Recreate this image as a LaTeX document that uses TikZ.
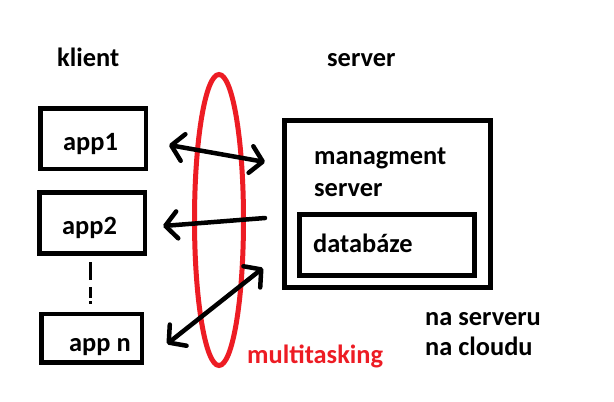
\documentclass[tikz,border=0pt]{standalone}
\usepackage{fontspec}
\setmainfont{Carlito}
\usetikzlibrary{arrows.meta,shapes.geometric}
\definecolor{paintred}{HTML}{ED1C24}
\tikzset{barbtip/.tip={Straight Barb[length=12pt,width=27pt,line cap=round,line join=round]}}
\begin{document}
\begin{tikzpicture}[x=1pt,y=-1pt,
  lbl/.style={anchor=base west,inner sep=0pt,font=\fontsize{26.4}{30}\selectfont\bfseries},
  box/.style={draw=black,line width=4.5pt,inner sep=0pt,rectangle},
  conn/.style={line width=4.5pt,line cap=round}]
\useasboundingbox (0,0) rectangle (614,402);
\fill[white] (0,0) rectangle (614,402);
% client boxes
\node[box,minimum width=105.5pt,minimum height=60.5pt] (b1) at (93,138.5) {};
\node[box,minimum width=105.5pt,minimum height=61pt] (b2) at (92,223) {};
\node[box,minimum width=100.5pt,minimum height=48.8pt] (bn) at (91.8,338.3) {};
% server boxes
\node[box,line width=5pt,minimum width=206pt,minimum height=167pt] (srv) at (387.5,204) {};
\node[box,line width=5pt,minimum width=175pt,minimum height=61pt] (db) at (387,245) {};
% labels
\node[lbl] (klient) at (57,66) {klient};
\node[lbl] (server) at (327,66) {server};
\node[lbl] (t1) at (63,150) {app1};
\node[lbl] (t2) at (62,234) {app2};
\node[lbl] (tn) at (69,351) {app n};
\node[lbl] (mg) at (314,164) {managment};
\node[lbl] (mg2) at (314,196) {server};
\node[lbl] (dbt) at (313,252) {databáze};
\node[lbl,text=paintred] (mt) at (247,363) {multitasking};
\node[lbl] (ns) at (425,325) {na serveru};
\node[lbl] (nc) at (425,355) {na cloudu};
% ellipse
\node[draw=paintred,line width=5pt,ellipse,minimum width=49pt,minimum height=291pt,inner sep=0pt] (el) at (219,220) {};
% arrow endpoints
\coordinate (a1l) at (169,145);
\coordinate (a1r) at (265,162);
\coordinate (a2l) at (163,226);
\coordinate (a2r) at (265,218);
\coordinate (anl) at (167,344);
\coordinate (anr) at (263,268);
\draw[conn,barbtip-barbtip] (a1l) -- (a1r);
\draw[conn,barbtip-] (a2l) -- (a2r);
\draw[conn,barbtip-barbtip] (anl) -- (anr);
% dashed link
\coordinate (d1) at (90,262);
\coordinate (d2) at (90,304);
\draw[line width=3pt,dash pattern=on 18pt off 7pt on 11pt off 3pt on 3pt off 20pt] (d1) -- (d2);
\end{tikzpicture}
\end{document}
